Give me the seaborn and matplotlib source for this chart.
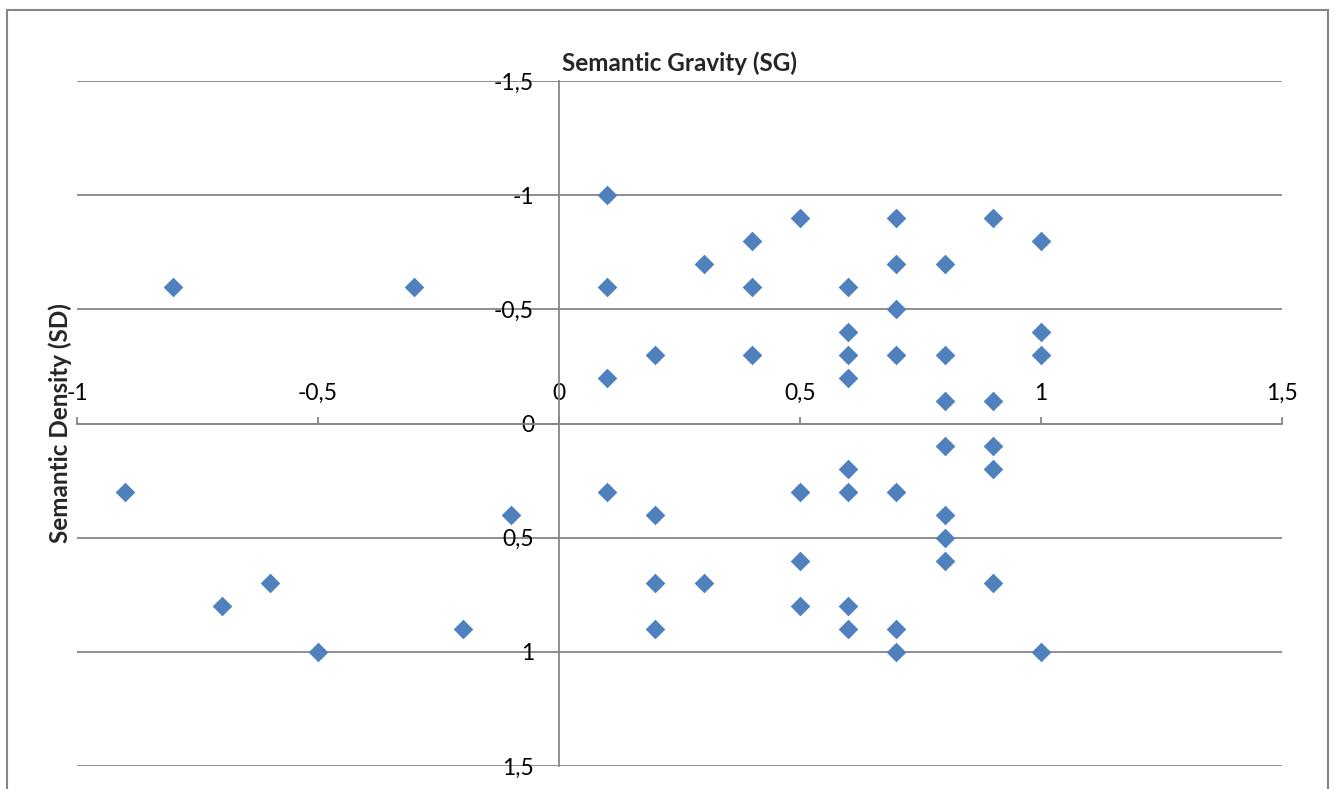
import matplotlib
matplotlib.use("Agg")
import matplotlib.pyplot as plt
from matplotlib.patches import Rectangle
import seaborn as sns
import pandas as pd

# Semantic gravity (x) and semantic density (y) of each coded segment
sg = [0.1, 0.5, 0.7, 0.9, 0.4, 1.0, 0.3, 0.7, 0.8,
      -0.8, -0.3, 0.1, 0.4, 0.6, 0.7, 0.6, 1.0,
      0.2, 0.4, 0.6, 0.7, 0.8, 1.0, 0.1, 0.6, 0.8, 0.9,
      0.8, 0.9, 0.6, 0.9,
      -0.9, 0.1, 0.5, 0.6, 0.7, -0.1, 0.2, 0.8, 0.8,
      0.5, 0.8, -0.6, 0.2, 0.3, 0.9, -0.7, 0.5, 0.6,
      -0.2, 0.2, 0.6, 0.7, -0.5, 0.7, 1.0]
sd = [-1.0, -0.9, -0.9, -0.9, -0.8, -0.8, -0.7, -0.7, -0.7,
      -0.6, -0.6, -0.6, -0.6, -0.6, -0.5, -0.4, -0.4,
      -0.3, -0.3, -0.3, -0.3, -0.3, -0.3, -0.2, -0.2, -0.1, -0.1,
      0.1, 0.1, 0.2, 0.2,
      0.3, 0.3, 0.3, 0.3, 0.3, 0.4, 0.4, 0.4, 0.5,
      0.6, 0.6, 0.7, 0.7, 0.7, 0.7, 0.8, 0.8, 0.8,
      0.9, 0.9, 0.9, 0.9, 1.0, 1.0, 1.0]

x_ticks = [-1, -0.5, 0, 0.5, 1, 1.5]
x_tick_labels = ["-1", "-0,5", "0", "0,5", "1", "1,5"]
y_ticks = [-1.5, -1, -0.5, 0, 0.5, 1, 1.5]
y_tick_labels = ["-1,5", "-1", "-0,5", "0", "0,5", "1", "1,5"]

df = pd.DataFrame({"SG": sg, "SD": sd})

sns.set_theme(style="white")
plt.rcParams["font.family"] = ["Lato", "DejaVu Sans"]

GRAY = "#868686"
BLUE = "#4F81BD"
W, H = 1333, 789

fig = plt.figure(figsize=(W / 100, H / 100), dpi=100)
ax = fig.add_axes([77 / W, 1 - 766 / H, 1205 / W, 685 / H])

sns.scatterplot(data=df, x="SG", y="SD", marker="D", s=100, color=BLUE,
                linewidth=0, ax=ax, zorder=3)

ax.set_xlim(-1, 1.5)
ax.set_ylim(1.5, -1.5)
ax.set_xticks(x_ticks)
ax.set_xticklabels(x_tick_labels)
ax.set_yticks(y_ticks)
ax.set_yticklabels(y_tick_labels)

# Axes cross at the origin; the category axis labels sit above its line
for side in ("bottom", "right"):
    ax.spines[side].set_visible(False)
ax.spines["top"].set_position(("data", 0))
ax.spines["left"].set_position(("data", 0))
for side in ("top", "left"):
    ax.spines[side].set_color(GRAY)
    ax.spines[side].set_linewidth(1.3)
ax.xaxis.set_ticks_position("top")
ax.xaxis.set_label_position("top")
ax.tick_params(axis="x", which="major", direction="out", length=5, width=1.3,
               color=GRAY, pad=9, labelsize=16.5, labelcolor="black")
ax.tick_params(axis="y", which="major", direction="out", length=5, width=1.3,
               color=GRAY, pad=13, labelsize=16.5, labelcolor="black")

ax.yaxis.grid(True, color=GRAY, linewidth=1.3)
ax.xaxis.grid(False)
ax.set_axisbelow(True)

ax.set_xlabel("")
ax.set_title("Semantic Gravity (SG)", fontsize=17.5, fontweight="bold", pad=7)
ax.set_ylabel("Semantic Density (SD)", fontsize=17.5, fontweight="bold")
ax.yaxis.label.set_va("center")
ax.yaxis.set_label_coords(-17 / 1205, 0.5)

# Chart-area border
fig.patches.append(Rectangle((7 / W, -0.05), 1321 / W, 1.05 - 10 / H,
                             transform=fig.transFigure, fill=False,
                             edgecolor=GRAY, linewidth=1.5))

fig.savefig("out.png", dpi=100)
